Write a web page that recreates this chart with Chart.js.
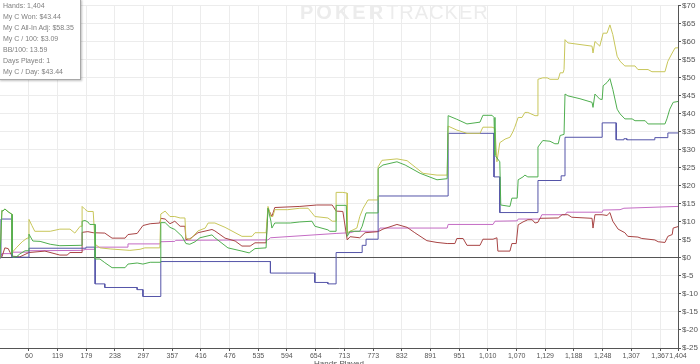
<!DOCTYPE html>
<html><head><meta charset="utf-8">
<script src="https://cdn.jsdelivr.net/npm/chart.js@4.4.0/dist/chart.umd.min.js"></script>
<style>
html,body{margin:0;padding:0;overflow:hidden;background:#fff;}
#wrap{position:relative;width:700px;height:372px;}
#stats{position:absolute;left:-1px;top:-1px;width:82px;height:81px;border:1px solid #a8a8a8;background:#fff;box-shadow:1px 1px 2px rgba(0,0,0,0.25);font:7px "Liberation Sans",Arial,sans-serif;color:#808080;line-height:11px;padding:0 0 0 3px;box-sizing:border-box;}
#wm{position:absolute;left:300px;top:1px;font:20px "Liberation Sans",Arial,sans-serif;color:#ececec;letter-spacing:1px;white-space:nowrap;}
#wm b{font-weight:bold;letter-spacing:3px;}
</style></head>
<body><div id="wrap"><canvas id="c" width="700" height="372"></canvas>
<div id="wm"><b>POKER</b>TRACKER</div>
<div id="stats">Hands: 1,404<br>My C Won: $43.44<br>My C All-In Adj: $58.35<br>My C / 100: $3.09<br>BB/100: 13.59<br>Days Played: 1<br>My C / Day: $43.44</div>
</div>
<script>
const xTicks = [60,119,179,238,297,357,416,476,535,594,654,713,773,832,891,951,1010,1070,1129,1188,1248,1307,1367,1404];

const wonHands = [0,4,6,10,17,25,25,27,35,41,52,60,60,68,83,104,124,166,170,170,176,182,186,197,197,207,217,232,259,265,284,296,311,333,333,342,352,362,377,385,393,404,414,439,445,472,501,516,528,551,555,561,563,569,601,621,646,652,679,683,696,696,717,719,725,745,750,758,783,783,793,822,839,870,905,926,928,946,967,994,1000,1019,1023,1025,1035,1037,1056,1060,1071,1073,1083,1087,1093,1114,1114,1124,1139,1149,1156,1160,1168,1170,1176,1201,1226,1228,1232,1242,1247,1249,1257,1263,1269,1278,1284,1294,1309,1315,1336,1342,1377,1381,1387,1394,1404];
const wonValues = [0,13.2,13.0,13.6,12.8,12.1,1.0,0.2,0.4,1.1,2.0,2.0,6.6,4.7,4.6,3.8,3.4,3.5,3.5,10.2,10.4,10.0,9.3,9.3,-0.3,-0.3,-1.3,-2.7,-2.7,-1.7,-1.4,-1.7,-1.2,-1.2,9.8,9.8,8.5,7.9,6.0,4.0,3.8,4.5,5.6,6.4,5.6,2.8,1.9,1.4,2.6,2.8,13.8,10.2,8.3,9.7,9.7,10.0,10.2,8.8,7.8,7.4,7.4,14.6,14.6,6.0,7.4,7.4,8.8,12.5,12.5,24.8,25.8,26.7,25.8,23.5,21.7,22.0,39.5,38.5,37.2,37.7,39.6,39.6,39.0,28.5,26.7,14.7,14.3,16.6,16.6,21.7,22.5,23.0,22.5,22.5,30.8,32.6,32.4,31.7,31.7,34.0,34.3,45.5,45.0,44.2,43.2,41.8,45.5,44.1,44.0,47.8,48.7,49.8,46.8,41.3,40.0,38.6,38.6,38.1,38.1,37.2,37.2,38.6,41.3,43.2,43.44];

const adjHands = [0,4,6,10,17,25,25,35,46,56,60,60,66,72,104,124,145,155,166,170,170,176,182,193,197,207,228,269,290,300,331,333,342,352,362,373,383,385,393,410,425,431,445,466,501,522,528,551,555,561,565,569,596,621,638,646,652,679,688,696,696,710,719,719,725,739,745,752,762,783,783,791,822,843,876,905,926,928,946,967,994,1000,1019,1025,1029,1035,1046,1056,1062,1066,1073,1081,1087,1093,1108,1114,1114,1124,1133,1139,1156,1160,1166,1168,1170,1176,1226,1228,1232,1242,1249,1257,1263,1269,1278,1284,1294,1315,1321,1342,1350,1377,1383,1392,1398,1404];
const adjValues = [0,13.2,13.0,13.6,12.8,12.1,1.5,3.0,4.5,5.5,5.5,10.7,9.0,7.4,7.4,8.0,8.0,6.9,8.8,8.8,14.3,13.5,12.9,12.9,3.8,2.8,2.5,2.1,2.4,2.8,2.8,12.2,13.0,11.5,11.5,11.1,11.1,5.6,5.0,7.5,8.3,9.7,9.7,8.5,6.0,6.0,7.0,7.0,14.3,11.5,11.5,13.4,13.4,13.8,13.8,12.5,11.5,11.1,10.2,10.2,18.2,18.2,18.0,7.0,7.4,8.3,11.5,13.8,16.1,16.1,25.3,27.1,27.5,27.0,23.5,23.0,23.0,36.6,35.5,34.6,34.6,36.3,36.3,36.0,26.7,32.0,33.0,33.5,35.0,36.3,39.0,39.0,40.4,40.4,39.5,39.5,49.6,50.0,50.0,49.6,49.6,51.4,51.4,52.3,60.6,59.7,58.8,56.9,60.1,58.8,62.4,62.4,64.7,62.0,56.0,54.6,53.3,53.3,52.3,52.3,51.7,51.7,54.6,56.9,58.3,58.35];

const sdHands = [0,2,25,25,60,60,178,178,197,197,217,217,284,284,296,296,333,333,560,560,652,652,679,679,696,696,750,750,758,758,783,783,928,928,1023,1023,1035,1035,1114,1114,1162,1162,1170,1170,1247,1247,1276,1276,1292,1292,1298,1298,1356,1356,1383,1383,1404];
const sdValues = [0,10.8,10.8,0.2,0.2,2.7,2.7,3.0,3.0,-7.2,-7.2,-8.2,-8.2,-8.8,-8.8,-10.7,-10.7,-1.0,-1.0,-4.2,-4.2,-6.8,-6.8,-7.2,-7.2,1.5,1.5,3.5,3.5,5.2,5.2,17.2,17.2,34.6,34.6,22.5,22.5,12.6,12.6,21.5,21.5,22.8,22.8,33.5,33.5,37.5,37.5,32.8,32.8,33.1,33.1,32.8,32.8,33.4,33.4,34.7,34.7];

const nsdHands = [0,4,10,17,21,25,41,60,93,124,139,145,170,170,182,193,217,232,259,265,284,296,311,331,333,342,352,362,373,383,385,393,410,439,445,466,487,501,518,528,551,555,563,569,621,656,688,696,710,719,725,745,756,783,793,822,843,859,884,905,926,942,946,959,967,994,1000,1021,1029,1031,1056,1060,1069,1073,1083,1093,1102,1108,1114,1118,1156,1164,1176,1184,1226,1228,1232,1247,1257,1263,1269,1280,1294,1300,1321,1329,1356,1363,1377,1383,1392,1394,1404];
const nsdValues = [0,0.3,2.8,2.6,1.5,0.5,0.3,1.5,1.9,0.8,0.8,1.5,1.5,7.1,7.3,7.0,6.9,5.5,5.5,6.5,6.8,9.0,9.5,9.7,11.0,10.8,9.5,10.2,8.8,8.8,5.1,5.3,7.0,7.9,7.5,5.5,4.7,3.3,3.3,4.2,4.2,13.8,11.5,14.0,14.3,14.7,14.7,13.0,12.9,5.0,5.9,5.6,7.0,7.3,8.0,9.3,8.5,7.0,4.8,4.3,4.0,4.0,5.4,5.4,3.5,3.5,5.2,5.2,5.6,1.9,1.9,4.0,4.0,9.2,10.0,10.6,10.6,9.7,9.9,11.0,11.1,12.0,12.0,11.3,11.0,8.3,12.0,12.0,11.8,12.6,10.2,8.0,7.0,6.0,5.8,5.4,5.0,4.5,4.3,6.0,6.5,8.3,8.7];

const evHands = [0,4,25,25,60,60,170,178,197,197,263,265,331,333,362,364,555,560,696,725,735,783,787,926,928,1021,1025,1071,1073,1118,1122,1170,1174,1247,1249,1284,1292,1404];
const evValues = [0,1.2,1.2,1.6,1.6,2.0,2.1,2.4,2.4,3.0,3.0,3.9,3.9,4.5,4.6,4.9,5.0,5.6,6.8,7.0,7.4,7.4,8.3,8.3,9.3,9.3,10.2,10.3,10.8,10.8,12.0,12.0,12.7,12.7,13.3,13.4,13.8,14.3];

const pts = (h, v) => h.map((x, i) => ({x: x, y: v[i]}));

new Chart(document.getElementById('c'), {
  type: 'line',
  data: {
    datasets: [
      {data: pts(wonHands, wonValues), borderColor: '#4fae4f'},
      {data: pts(adjHands, adjValues), borderColor: '#c8c65a'},
      {data: pts(sdHands, sdValues), borderColor: '#5454a8'},
      {data: pts(nsdHands, nsdValues), borderColor: '#a84444'},
      {data: pts(evHands, evValues), borderColor: '#c46cc4'}
    ]
  },
  options: {
    responsive: false,
    animation: false,
    layout: {padding: {left: 0, top: 2, right: 0, bottom: 0}},
    plugins: {legend: {display: false}, tooltip: {enabled: false}},
    elements: {point: {radius: 0}, line: {borderWidth: 1, tension: 0}},
    scales: {
      x: {
        type: 'linear', min: 0, max: 1404,
        afterBuildTicks: s => { s.ticks = xTicks.map(v => ({value: v})); },
        afterFit: s => { s.height = 24; },
        ticks: {autoSkip: false, maxRotation: 0, padding: 1, color: '#555',
          font: {size: 7, family: 'Liberation Sans'},
          callback: v => Number(v).toLocaleString('en-US')},
        grid: {color: '#ececec', tickLength: 3, tickColor: '#555'},
        border: {color: '#555'},
        title: {display: true, text: 'Hands Played', color: '#555',
          font: {size: 8, family: 'Liberation Sans'}, padding: {top: 0, bottom: 3}}
      },
      y: {
        position: 'right', min: -25, max: 70,
        afterFit: s => { s.width = 22; },
        ticks: {stepSize: 5, padding: 1, color: '#555',
          font: {size: 8, family: 'Liberation Sans'},
          callback: v => '$' + v},
        grid: {color: c => (c.tick && c.tick.value === 0) ? '#555' : '#ececec', tickLength: 3, tickColor: '#555'},
        border: {color: '#555'}
      }
    }
  }
});
</script>
</body></html>
